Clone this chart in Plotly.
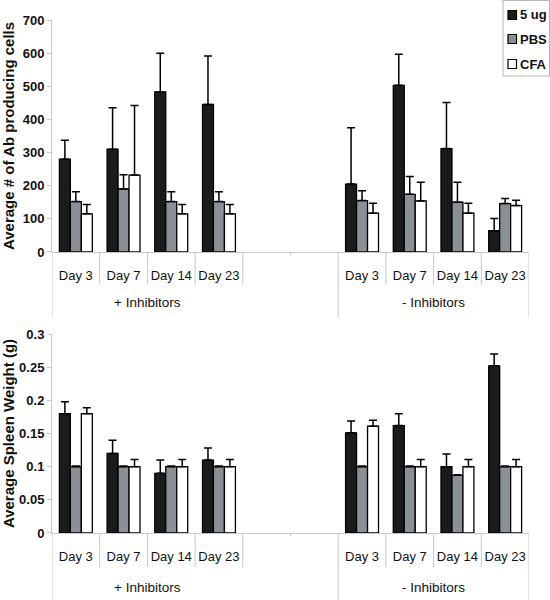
import plotly.graph_objects as go
from plotly.subplots import make_subplots

# ---- data ----
day_labels = ["Day 3", "Day 7", "Day 14", "Day 23", "", "", "Day 3", "Day 7", "Day 14", "Day 23"]
group_labels = ["+ Inhibitors", "- Inhibitors"]
series_names = ["5 ug", "PBS", "CFA"]

# Average # of Ab producing cells (None = empty slot)
ab_5ug = [280, 310, 483, 445, None, None, 205, 503, 312, 64]
ab_pbs = [152, 190, 152, 152, None, None, 155, 174, 150, 146]
ab_cfa = [115, 232, 115, 115, None, None, 117, 154, 117, 140]
ab_5ug_err = [57, 125, 117, 146, 0, 0, 170, 94, 139, 37]
ab_pbs_err = [30, 43, 30, 30, 0, 0, 30, 54, 60, 15]
ab_cfa_err = [28, 210, 28, 28, 0, 0, 30, 56, 30, 16]

# Average spleen weight (g)
sw_5ug = [0.18, 0.12, 0.09, 0.11, None, None, 0.151, 0.162, 0.10, 0.252]
sw_pbs = [0.10, 0.10, 0.10, 0.10, None, None, 0.10, 0.10, 0.087, 0.10]
sw_cfa = [0.18, 0.10, 0.10, 0.10, None, None, 0.161, 0.10, 0.10, 0.10]
sw_5ug_err = [0.018, 0.02, 0.02, 0.018, 0, 0, 0.018, 0.018, 0.019, 0.018]
sw_pbs_err = [0.001, 0.001, 0.001, 0.001, 0, 0, 0.001, 0.001, 0.001, 0.001]
sw_cfa_err = [0.009, 0.011, 0.011, 0.011, 0, 0, 0.009, 0.011, 0.011, 0.011]

colors = ["#1b1b1b", "#8b9096", "#ffffff"]
FONT = "Liberation Sans, Arial, sans-serif"

x = list(range(len(day_labels)))

fig = make_subplots(rows=2, cols=1, vertical_spacing=0.16,
                    row_heights=[232, 199])

def add_set(row, vals, errs):
    for name, v, e, c in zip(series_names, vals, errs, colors):
        fig.add_trace(go.Bar(
            x=x, y=v, name=name, showlegend=False,
            marker=dict(color=c, line=dict(color="#000000", width=1.3)),
            error_y=dict(type="data", symmetric=False, array=e,
                         arrayminus=[0] * len(e), color="#000000",
                         thickness=1.5, width=4),
        ), row=row, col=1)

add_set(1, [ab_5ug, ab_pbs, ab_cfa], [ab_5ug_err, ab_pbs_err, ab_cfa_err])
add_set(2, [sw_5ug, sw_pbs, sw_cfa], [sw_5ug_err, sw_pbs_err, sw_cfa_err])

axis_gray = "#c8c8c8"
for r in (1, 2):
    fig.update_xaxes(row=r, col=1, range=[-0.5, 9.5], tickmode="array",
                     tickvals=x, ticktext=day_labels, showline=True,
                     linecolor=axis_gray, linewidth=1, ticks="",
                     tickangle=0, automargin=False,
                     ticklabelstandoff=11, showgrid=False, zeroline=False,
                     tickfont=dict(family=FONT, size=13, color="#111"))
ytf = dict(family=FONT, size=13, color="#111", weight="bold")
ttf = dict(family=FONT, size=15, color="#111", weight="bold")
fig.update_yaxes(row=1, col=1, range=[0, 700], dtick=100, showgrid=False,
                 zeroline=False, showline=True, linecolor=axis_gray,
                 ticks="outside", ticklen=4, tickcolor=axis_gray,
                 tickfont=ytf, automargin=False,
                 title=dict(text="Average # of Ab producing cells", standoff=5, font=ttf))
fig.update_yaxes(row=2, col=1, range=[0, 0.3], dtick=0.05, showgrid=False,
                 zeroline=False, showline=True, linecolor=axis_gray,
                 ticks="outside", ticklen=4, tickcolor=axis_gray,
                 tickfont=ytf, automargin=False,
                 title=dict(text="Average Spleen Weight (g)", standoff=5, font=ttf))

# separators in the category label area
shapes = []
for xr, yr, short_len, long_len in (("x", "y domain", 0.142, 0.284),
                                     ("x2", "y2 domain", 0.171, 0.337)):
    for i in range(-1, len(x)):
        b = i + 0.5
        if b in (-0.5, 5.5, 9.5):
            L = long_len
        elif b == 4.5:
            L = 0.015
        else:
            L = short_len
        shapes.append(dict(type="line", xref=xr, yref=yr, x0=b, x1=b,
                           y0=0, y1=-L, line=dict(color=axis_gray, width=1)))

annos = []
for xr, yr, yy in (("x", "y domain", -0.22), ("x2", "y2 domain", -0.276)):
    for g, cx in zip(group_labels, (1.5, 7.5)):
        annos.append(dict(text=g, xref=xr, yref=yr, x=cx, y=yy,
                          showarrow=False, yanchor="middle",
                          font=dict(family=FONT, size=13.5, color="#111")))

# compact legend box (top-right corner)
W, H = 477.0, 513.0
def px(v):
    return (v - 52) / W
def py(v):
    return (533 - v) / H

shapes.append(dict(type="rect", xref="paper", yref="paper",
                   x0=px(503), x1=px(549.5), y0=py(76), y1=py(0.5),
                   line=dict(color="#b5b5b5", width=1), fillcolor="white"))
for name, c, yc in zip(series_names, colors, (15, 39, 64)):
    shapes.append(dict(type="rect", xref="paper", yref="paper",
                       x0=px(508), x1=px(516.5), y0=py(yc + 4.5), y1=py(yc - 4.5),
                       line=dict(color="#000000", width=1.2), fillcolor=c))
    annos.append(dict(text=name, xref="paper", yref="paper", x=px(518),
                      y=py(yc), xanchor="left", yanchor="middle", showarrow=False,
                      font=dict(family=FONT, size=13, color="#111", weight="bold")))

fig.update_layout(shapes=shapes, annotations=annos)

fig.update_layout(
    width=550, height=600,
    margin=dict(l=52, r=21, t=20, b=67, autoexpand=False),
    paper_bgcolor="white", plot_bgcolor="white",
    barmode="group", bargap=0.31, bargroupgap=0,
    showlegend=False,
)

fig.write_html("out.html", config={"displayModeBar": False},
               post_script="document.body.style.margin='0';")
